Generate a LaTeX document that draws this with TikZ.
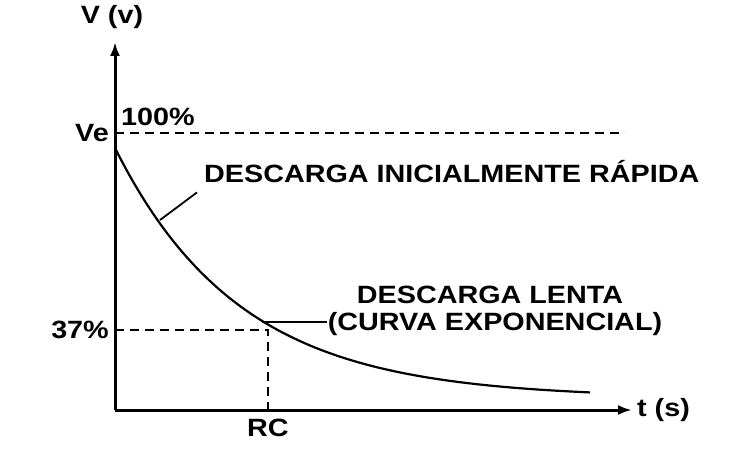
\documentclass[tikz,border=0pt]{standalone}
\usepackage{fontspec}
\setmainfont[FakeStretch=1.15]{Liberation Sans}
\usetikzlibrary{arrows.meta,positioning}
\begin{document}
\begin{tikzpicture}[x=1pt,y=-1pt,
    lbl/.style={font=\fontsize{25}{27}\selectfont\bfseries, inner sep=1pt},
    axis/.style={line width=3pt, -{Latex[length=14pt,width=10pt]}},
    guide/.style={line width=1.5pt, dash pattern=on 9pt off 6pt}]
  \useasboundingbox (0,0) rectangle (750,473);
  \coordinate (o) at (115,410);
  \coordinate (ytop) at (115,42);
  \coordinate (xend) at (632,410);
  \coordinate (ve) at (115,133);
  \coordinate (vend) at (625,133);
  \coordinate (p37) at (115,330);
  \coordinate (rc) at (268,330);
  \coordinate (rcb) at (268,410);
  % axes
  \draw[axis] (o) -- (ytop);
  \draw[axis] (o) -- (xend);
  % guides
  \draw[guide] (ve) -- (vend);
  \draw[guide] (p37) -- (rc) -- (rcb);
  % discharge curve
  \draw[line width=2.2pt, domain=115:590, samples=80, smooth]
    plot (\x,{398-250*exp(-(\x-115)/125)});
  % labels
  \node[lbl, anchor=south] (vv) at (112,30) {V (v)};
  \node[lbl, anchor=east] (vel) at (110,133) {Ve};
  \node[lbl, anchor=west] (pct100) at (120,117) {100\%};
  \node[lbl, anchor=east] (pct37) at (110,330) {37\%};
  \node[lbl, anchor=north] (rcl) at (268,418) {RC};
  \node[lbl, anchor=west] (ts) at (636,410) {t (s)};
  \node[lbl, anchor=west] (rapida) at (203,172) {DESCARGA INICIALMENTE RÁPIDA};
  \node[lbl] (lenta) at (490,295) {DESCARGA LENTA};
  \node[lbl] (expo) at (495,324) {(CURVA EXPONENCIAL)};
  \coordinate (rapidaend) at (160,220);
  \coordinate (lentaend) at (262,322);
  \draw[line width=1.8pt] (rapida.south west) ++(-6,8) -- (rapidaend);
  \draw[line width=1.2pt] (expo.west) ++(0,-2) -- (lentaend);
\end{tikzpicture}
\end{document}
